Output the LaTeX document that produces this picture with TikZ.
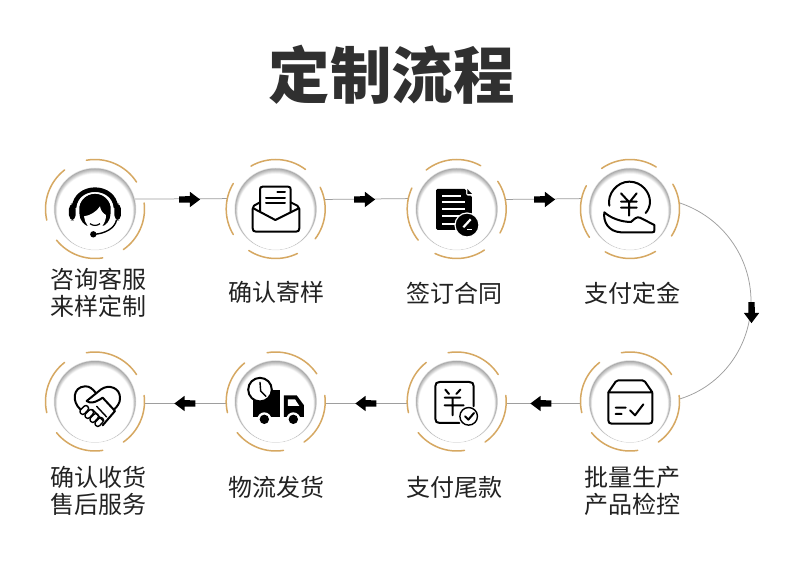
\documentclass[tikz,border=0pt]{standalone}
\usepackage{fontspec}
\setmainfont{Noto Sans CJK SC}
\usetikzlibrary{calc,shapes.arrows}
\definecolor{gold}{HTML}{D6A862}
\definecolor{ink}{HTML}{222222}
\definecolor{titleink}{HTML}{303030}
\tikzset{
 stopnode/.style={circle,minimum size=100pt,inner sep=0pt,outer sep=0pt},
 corenode/.style={circle,minimum size=82pt,inner sep=0pt,outer sep=0pt},
 ringarc/.style={gold,line width=1.5pt,line cap=round},
 link/.style={draw=black!38,line width=.75pt},
 stepfont/.style={text=ink,font=\fontsize{24}{26.5}\selectfont,align=center,inner sep=0pt},
 heavyarrow/.style={single arrow,fill=black,inner sep=0pt,minimum height=21pt,single arrow head extend=4.5pt,single arrow head indent=0pt,single arrow tip angle=74},
 ico/.style={line width=2pt,line cap=round,line join=round},
 icothin/.style={line width=1.4pt,line cap=round,line join=round},
 disc/.pic={
  \fill[black!14] (0,0) circle[radius=41.2pt];
  \foreach \i in {0,...,11}{
   \pgfmathsetmacro\mixv{min(100,66+3.2*\i)}
   \fill[white!\mixv!black] (0,-0.25*\i) circle[radius={(40.5-0.25*\i)*1pt}];
  }
 },
 crop/.style 2 args={shift={(#1,573-#2)},x=0.3333pt,y=-0.3333pt}
}
\newcommand{\ringsAt}[2]{\foreach \a/\b in {#2}{\draw[ringarc] ($(#1)+(\a:49.5pt)$) arc[start angle=\a,end angle=\b,radius=49.5pt];}}
\newcommand{\arrowbar}{\rule{6pt}{6pt}}
\begin{document}
\begin{tikzpicture}[x=1pt,y=1pt]
\useasboundingbox (0,0) rectangle (790,573);
\fill[white] (0,0) rectangle (790,573);
\node[text=titleink,font=\fontsize{61.5}{61.5}\bfseries\selectfont,inner sep=0pt] (title) at (391.5,498) {定制流程};

\node[stopnode] (s1) at (95,364) {};
\node[stopnode] (s2) at (275.7,364) {};
\node[stopnode] (s3) at (456.7,364) {};
\node[stopnode] (s4) at (630,364) {};
\node[stopnode] (s5) at (95,171.5) {};
\node[stopnode] (s6) at (275.7,171.5) {};
\node[stopnode] (s7) at (456.7,171.5) {};
\node[stopnode] (s8) at (630,171.5) {};
\node[corenode] (d1) at (s1) {};
\coordinate (bend) at (751,271.5);

\draw[link] (d1.14) -- (s2.168.5);
\draw[link] (s2.11.5) -- (s3.168.5);
\draw[link] (s3.11.5) -- (s4.168.5);
\draw[link] (s4.7) .. controls (722.4,355.8) and (751,316.2) .. (bend) .. controls (751,226.8) and (722.4,187.2) .. (s8.3.4);
\draw[link] (s8.182) -- (s7.-2);
\draw[link] (s7.182) -- (s6.-2);
\draw[link] (s6.182) -- (s5.-2);

\node[heavyarrow] (a1) at (187.5,373.5) {\arrowbar};
\node[heavyarrow] (a2) at (362.5,373.5) {\arrowbar};
\node[heavyarrow] (a3) at (542.5,373.5) {\arrowbar};
\node[heavyarrow,shape border rotate=270] (a4) at (751.5,262.5) {\arrowbar};
\node[heavyarrow,shape border rotate=180] (a5) at (543,169.5) {\arrowbar};
\node[heavyarrow,shape border rotate=180] (a6) at (368,169.5) {\arrowbar};
\node[heavyarrow,shape border rotate=180] (a7) at (187,169.5) {\arrowbar};

\foreach \n in {s1,s2,s3,s4,s5,s6,s7,s8}{\path (\n) pic {disc};}

\ringsAt{s1}{100/33,128/193,219/279,305/367}
\ringsAt{s2}{120/53,26/-37,-64/-123,211/149}
\ringsAt{s3}{128/61,34/-29,-56/-116,219/155}
\ringsAt{s4}{125/58,30/-33,-59/-120,215/152}
\ringsAt{s5}{100/33,128/193,219/279,305/367}
\ringsAt{s6}{100/34,129/193,219/279,305/367}
\ringsAt{s7}{100/33,128/193,219/279,305/367}
\ringsAt{s8}{100/33,128/193,219/279,305/367}

% 1 headset
\begin{scope}[crop={60}{175}]
 \draw[black,line width=4.6pt] (42,98) .. controls (45,62) and (75,44) .. (105,44) .. controls (135,44) and (165,62) .. (168,98);
 \fill[black,rounded corners=5pt] (27,86) rectangle (47,136);
 \fill[black,rounded corners=5pt] (163,86) rectangle (183,136);
 \fill[black] (58,105) .. controls (55,75) and (80,56) .. (105,56) .. controls (135,56) and (155,78) .. (152,105) .. controls (152,125) and (150,140) .. (132,152) -- (80,152) .. controls (60,140) and (58,125) .. (58,105) -- cycle;
 \draw[white,line width=1.1pt] (56,94) .. controls (62,68) and (85,54) .. (105,54) .. controls (125,54) and (148,68) .. (154,94);
 \fill[white] (72,124) .. controls (90,122) and (110,110) .. (120,94) .. controls (122,108) and (130,116) .. (138,120) .. controls (138,145) and (122,164) .. (105,164) .. controls (88,164) and (74,145) .. (72,124) -- cycle;
 \draw[black,line width=1.2pt] (90,146) .. controls (98,153) and (112,153) .. (120,146);
 \draw[black,line width=1.4pt] (170,134) .. controls (165,160) and (135,176) .. (102,178);
 \fill[black] (100,178) circle[radius=3.2pt];
\end{scope}

% 2 envelope
\begin{scope}[crop={240}{175}]
 \draw[black,ico,fill=white] (60,110) -- (60,44) .. controls (60,38) and (62,35) .. (68,35) -- (144,35) .. controls (150,35) and (152,38) .. (152,44) -- (152,112);
 \draw[black,ico] (112,50) -- (135,50) (78,68) -- (135,68) (78,85) -- (135,85);
 \draw[black,ico] (60,82) -- (42,92) .. controls (38,95) and (38,97) .. (38,102) -- (38,160) .. controls (38,167) and (41,170) .. (48,170) -- (168,170) .. controls (175,170) and (178,167) .. (178,160) -- (178,102) .. controls (178,97) and (176,95) .. (172,92) -- (152,82);
 \draw[black,ico] (40,100) -- (106,135) -- (176,100);
\end{scope}

% 3 document
\begin{scope}[crop={422}{175}]
 \fill[black,rounded corners=1.5pt] (42,42) -- (132,42) -- (132,62) -- (150,62) -- (150,165) -- (42,165) -- cycle;
 \fill[black] (136,42) -- (150,57) -- (136,57) -- cycle;
 \draw[white,line width=2pt] (60,62) -- (118,62) (60,82) -- (130,82) (60,103) -- (130,103) (60,124) -- (130,124) (60,147) -- (130,147);
 \fill[black,draw=white,line width=1.2pt] (135,150) circle[radius=12pt];
 \draw[white,line width=2.2pt] (124,157) -- (146,133);
 \draw[white,line width=1pt] (136,163) -- (150,163);
\end{scope}

% 4 yuan in hand
\begin{scope}[crop={595}{175}]
 \draw[black,ico] (43,92) .. controls (36,58) and (65,20) .. (103,20) .. controls (140,20) and (165,52) .. (165,80) .. controls (165,93) and (160,105) .. (152,114);
 \draw[black,ico] (78,55) -- (103,82) -- (125,55) (78,80) -- (125,80) (78,98) -- (125,98) (102,82) -- (102,122);
 \draw[black,ico] (28,112) .. controls (24,140) and (40,170) .. (78,172) -- (172,172) .. controls (178,172) and (178,170) .. (178,165) -- (178,150) -- (135,128) .. controls (125,124) and (118,132) .. (108,141) .. controls (80,141) and (48,130) .. (28,112) -- cycle;
\end{scope}

% 5 heart handshake
\begin{scope}[crop={60}{367}]
 \draw[black,ico] (62,128) .. controls (35,105) and (38,60) .. (75,58) .. controls (88,57) and (98,66) .. (106,76);
 \draw[black,ico] (80,102) -- (122,68) .. controls (145,50) and (182,62) .. (180,95) .. controls (180,108) and (172,118) .. (162,128);
 \draw[black,ico] (80,102) .. controls (90,110) and (105,108) .. (128,92) -- (165,132) -- (128,175);
 \foreach \dx/\dy in {0/0,15/12,30/24,45/36}{
  \draw[black,icothin,fill=white,shift={(\dx,\dy)}] (62,128) -- (72,118) .. controls (76,114) and (80,115) .. (83,118) .. controls (87,122) and (87,126) .. (83,130) -- (74,140) .. controls (70,144) and (66,143) .. (62,139) .. controls (59,135) and (59,132) .. (62,128) -- cycle;
 }
 \draw[black,icothin] (110,118) -- (140,150) (98,128) -- (128,160);
\end{scope}

% 6 truck
\begin{scope}[crop={240}{367}]
 \fill[black] (50,70) rectangle (121,150);
 \fill[black] (38,90) rectangle (60,150);
 \fill[black] (132,85) -- (170,85) -- (192,115) -- (192,150) -- (132,150) -- cycle;
 \fill[white] (144,97) -- (165,97) -- (178,117) -- (144,117) -- cycle;
 \fill[white] (73,157) circle[radius=7pt];
 \fill[white] (160,157) circle[radius=7pt];
 \fill[black] (73,157) circle[radius=4.7pt];
 \fill[black] (160,157) circle[radius=4.7pt];
 \draw[black,ico,fill=white] (60,68) circle[radius=11.8pt];
 \draw[black,icothin] (60,46) -- (62,72) -- (78,88);
\end{scope}

% 7 yuan note
\begin{scope}[crop={422}{367}]
 \draw[black,ico] (155,118) -- (155,58) .. controls (155,49) and (151,45) .. (142,45) -- (53,45) .. controls (44,45) and (40,49) .. (40,58) -- (40,155) .. controls (40,164) and (44,168) .. (53,168) -- (112,168);
 \draw[black,ico] (70,68) -- (81,81) (115,68) -- (103,81) (68,92) -- (115,92) (68,115) -- (125,115) (92,92) -- (92,145);
 \draw[black,icothin] (140,148) circle[radius=8.8pt];
 \draw[black,ico] (129,148) -- (139,158) -- (156,138);
\end{scope}

% 8 parcel
\begin{scope}[crop={595}{367}]
 \draw[black,ico] (40,78) -- (40,160) .. controls (40,167) and (43,170) .. (50,170) -- (162,170) .. controls (169,170) and (172,167) .. (172,160) -- (172,78);
 \draw[black,ico] (40,76) -- (62,44) .. controls (64,41) and (66,40) .. (70,40) -- (142,40) .. controls (146,40) and (148,41) .. (150,44) -- (172,76) -- cycle;
 \draw[black,ico] (62,122) -- (92,122) (62,141) -- (80,141) (105,130) -- (120,145) -- (145,112);
\end{scope}

\node[stepfont] (l1) at (98,280) {咨询客服\\来样定制};
\node[stepfont] (l2) at (276,281) {确认寄样};
\node[stepfont] (l3) at (454,280) {签订合同};
\node[stepfont] (l4) at (632,280) {支付定金};
\node[stepfont] (l5) at (98,82) {确认收货\\售后服务};
\node[stepfont] (l6) at (276,86) {物流发货};
\node[stepfont] (l7) at (454,86) {支付尾款};
\node[stepfont] (l8) at (632,82) {批量生产\\产品检控};
\end{tikzpicture}
\end{document}
